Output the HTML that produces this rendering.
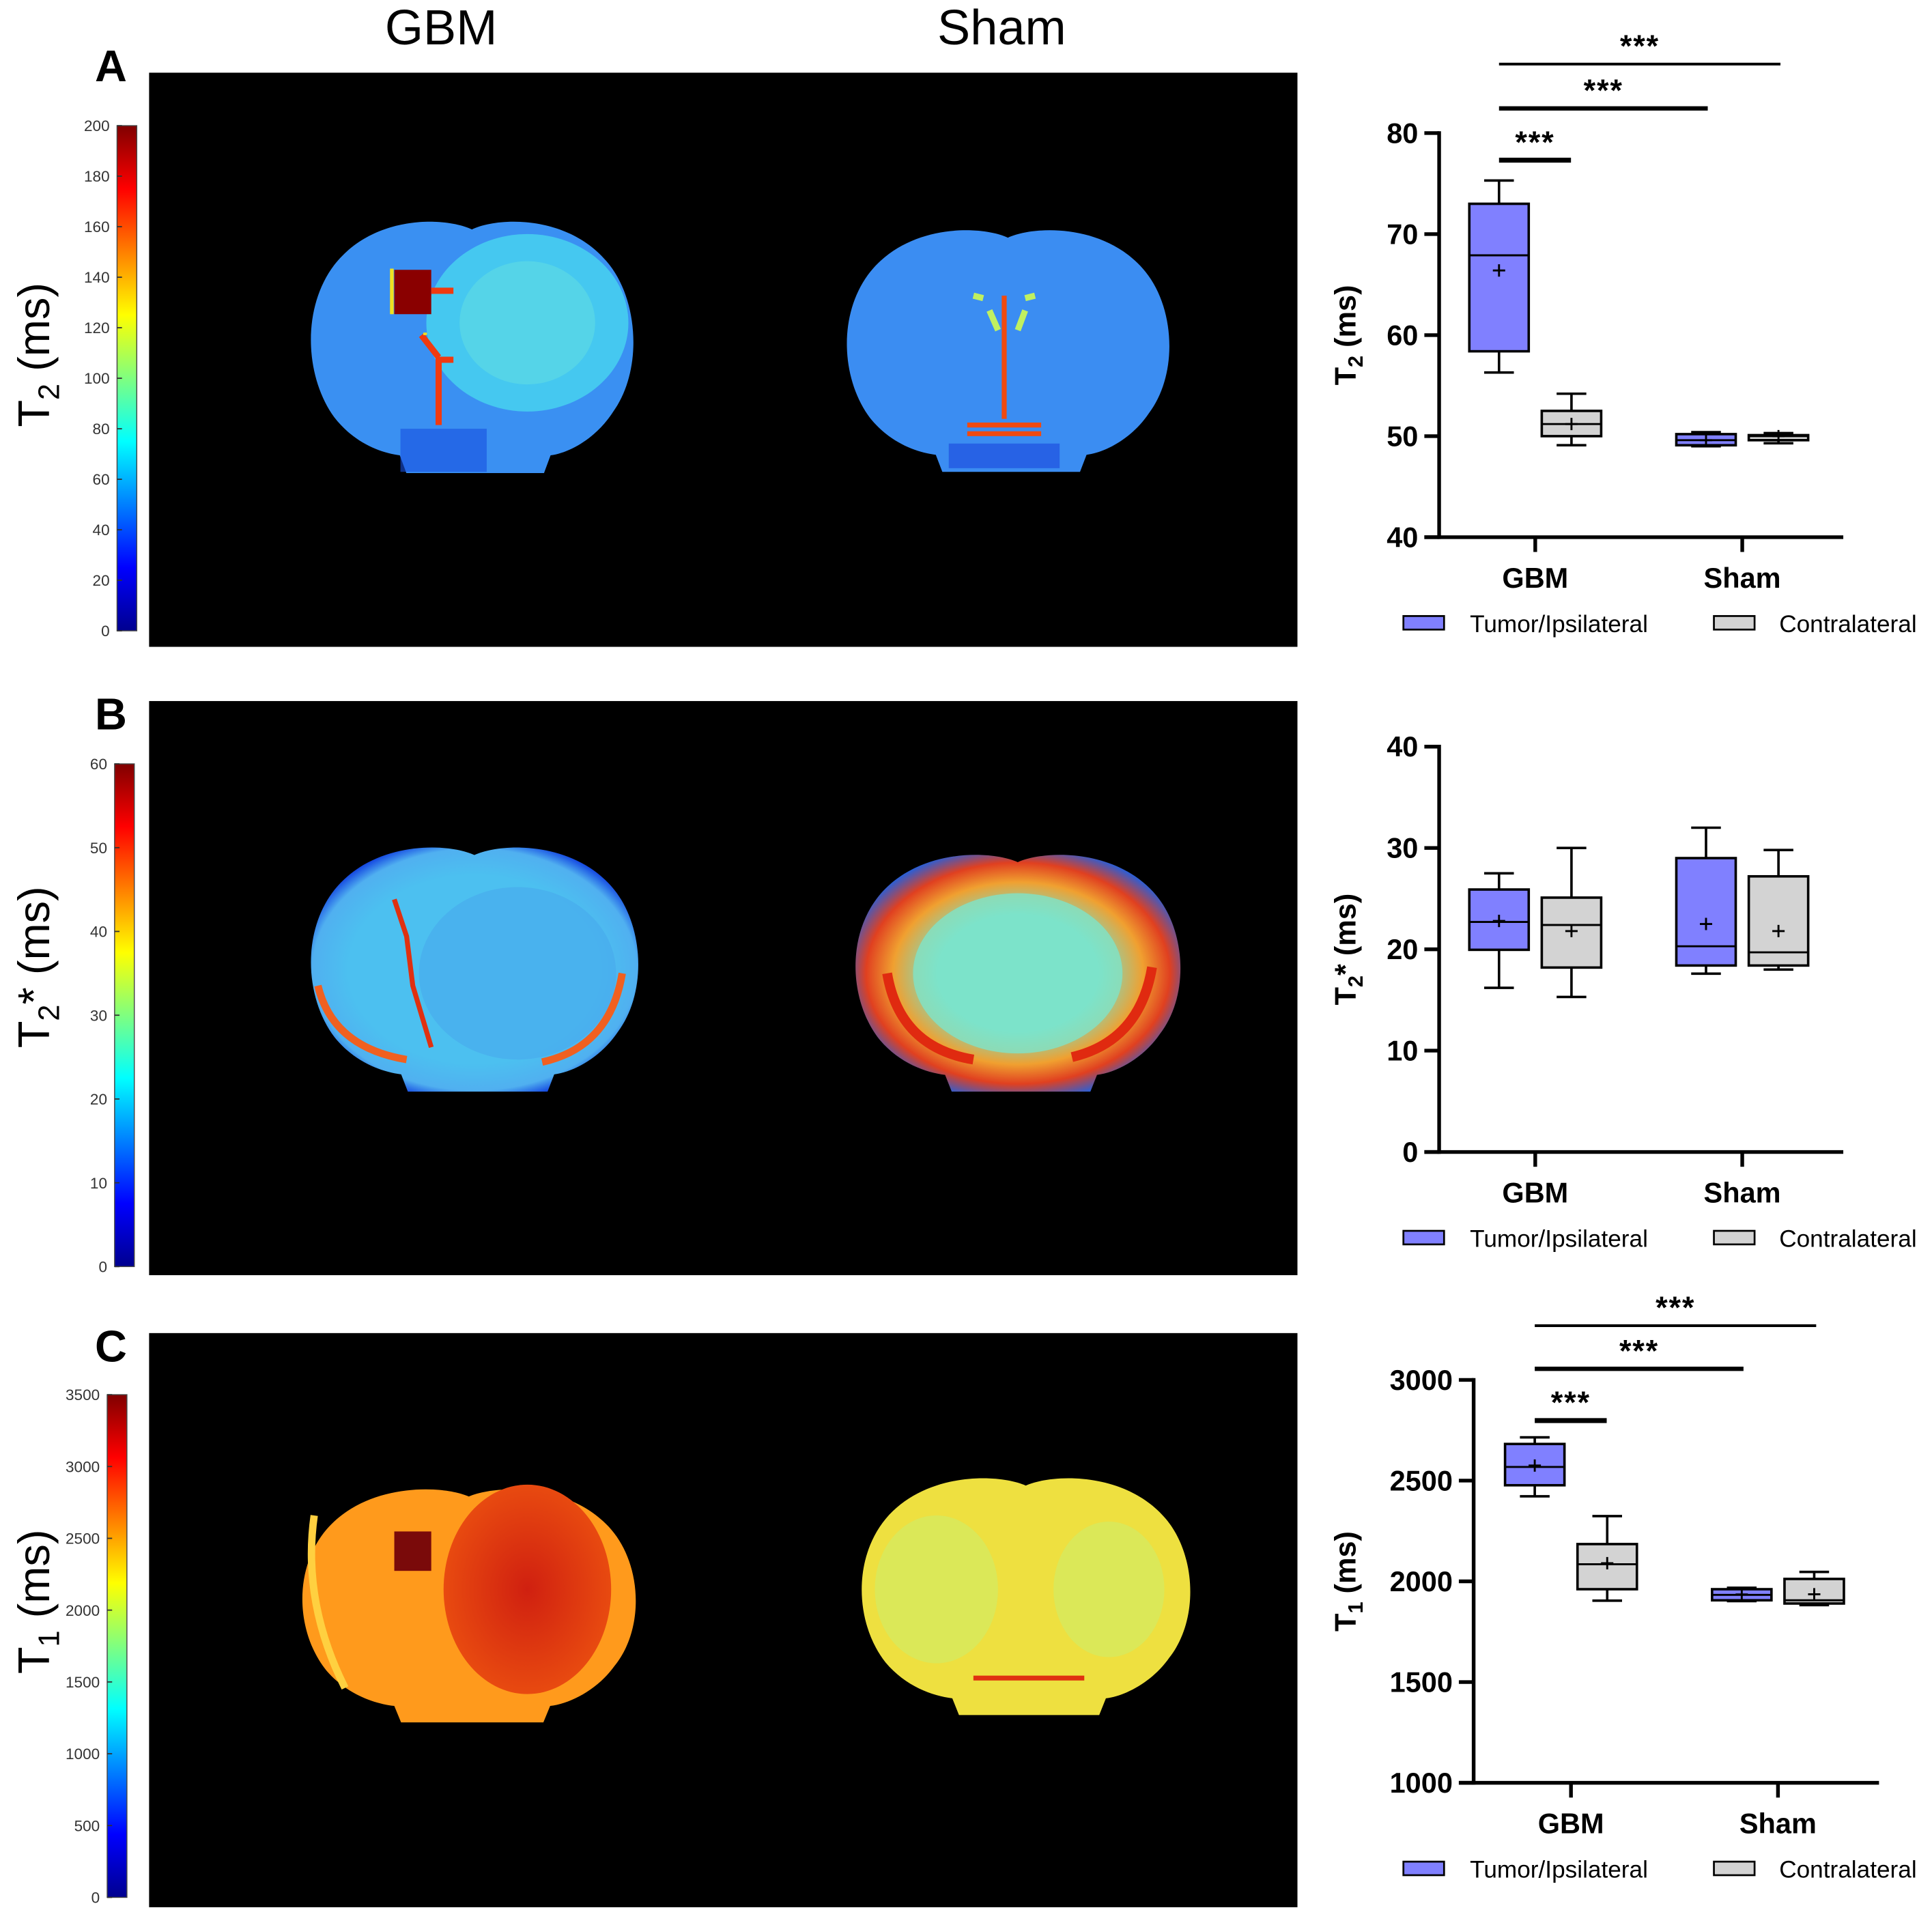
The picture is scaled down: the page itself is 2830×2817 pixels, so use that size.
<!DOCTYPE html>
<html><head><meta charset="utf-8"><style>
html,body{margin:0;padding:0;background:#fff;}
svg{display:block;}
text{font-family:"Liberation Sans",Arial,sans-serif;}
</style></head><body>
<svg id="fig" width="2830" height="2817" viewBox="0 0 1568 1560.8" preserveAspectRatio="none" xmlns="http://www.w3.org/2000/svg">
<defs>
<linearGradient id="jet" x1="0" y1="1" x2="0" y2="0">
<stop offset="0" stop-color="#00008f"/><stop offset="0.125" stop-color="#0000ff"/><stop offset="0.375" stop-color="#00ffff"/><stop offset="0.625" stop-color="#ffff00"/><stop offset="0.875" stop-color="#ff0000"/><stop offset="1" stop-color="#800000"/>
</linearGradient>
<path id="brain" d="M0.5,0.04 C0.42,-0.01 0.2,-0.02 0.08,0.18 C-0.02,0.35 -0.01,0.62 0.08,0.78 C0.14,0.88 0.22,0.92 0.28,0.93 L0.3,1 L0.72,1 L0.74,0.93 C0.8,0.92 0.88,0.86 0.93,0.76 C1.02,0.6 1.01,0.33 0.92,0.18 C0.8,-0.02 0.58,-0.01 0.5,0.04 Z"/>
<radialGradient id="b2edge" cx="0.5" cy="0.5" r="0.55"><stop offset="0.7" stop-color="#4cc0f0"/><stop offset="0.9" stop-color="#50b0f0"/><stop offset="1" stop-color="#1040e0"/></radialGradient>
<radialGradient id="b2sham" cx="0.5" cy="0.5" r="0.55"><stop offset="0.45" stop-color="#70e0d0"/><stop offset="0.7" stop-color="#f0a030"/><stop offset="0.85" stop-color="#e04020"/><stop offset="1" stop-color="#2060e0"/></radialGradient>
<radialGradient id="tumor1" cx="0.5" cy="0.5" r="0.5"><stop offset="0" stop-color="#d02010"/><stop offset="1" stop-color="#e84a10"/></radialGradient>
</defs>

<text x="358" y="36" font-size="40" text-anchor="middle">GBM</text>
<text x="813" y="36" font-size="40" text-anchor="middle">Sham</text>
<text x="90" y="66" font-size="36" font-weight="bold" text-anchor="middle">A</text>
<text x="90" y="592" font-size="36" font-weight="bold" text-anchor="middle">B</text>
<text x="90" y="1105" font-size="36" font-weight="bold" text-anchor="middle">C</text>

<rect x="121" y="59" width="932" height="466" fill="#000"/>
<rect x="121" y="569" width="932" height="466" fill="#000"/>
<rect x="121" y="1082" width="932" height="466" fill="#000"/>

<g>
<use href="#brain" transform="translate(250,178) scale(266,206)" fill="#3a90f2"/>
<ellipse cx="428" cy="262" rx="82" ry="72" fill="#45c8f0"/>
<ellipse cx="428" cy="262" rx="55" ry="50" fill="#55d4e8"/>
<rect x="320" y="219" width="30" height="36" fill="#8a0000"/>
<path d="M350,236 L368,236 M342,272 L356,290 M356,290 L356,345 M356,292 L368,292" stroke="#f03a10" stroke-width="5" fill="none"/>
<path d="M318,218 L318,255 M345,270 L345,272" stroke="#f0e020" stroke-width="3"/>
<rect x="325" y="348" width="70" height="35" fill="#1850e0" opacity="0.6"/>
</g>
<g>
<use href="#brain" transform="translate(685,185) scale(266,198)" fill="#3b8df2"/>
<path d="M815,240 L815,340 M785,345 L845,345 M785,352 L845,352" stroke="#f04a10" stroke-width="4"/>
<path d="M790,240 L798,242 M832,242 L840,240 M803,252 L810,268 M826,268 L832,252" stroke="#c0f060" stroke-width="5"/>
<rect x="770" y="360" width="90" height="20" fill="#2050e0" opacity="0.7"/>
</g>

<g>
<use href="#brain" transform="translate(250,686) scale(270,200)" fill="url(#b2edge)"/>
<path d="M258,800 Q270,850 330,860 M505,790 Q495,850 440,862" stroke="#f06020" stroke-width="6" fill="none"/>
<path d="M320,730 L330,760 L335,800 L350,850" stroke="#e03010" stroke-width="4" fill="none"/>
<ellipse cx="420" cy="790" rx="80" ry="70" fill="#48a8ec" opacity="0.6"/>
</g>
<g>
<use href="#brain" transform="translate(692,692) scale(268,194)" fill="url(#b2sham)"/>
<ellipse cx="826" cy="790" rx="85" ry="65" fill="#80e4c8" opacity="0.8"/>
<path d="M720,790 Q730,850 790,860 M935,785 Q925,845 870,858" stroke="#e02a10" stroke-width="8" fill="none"/>
</g>

<g>
<use href="#brain" transform="translate(243,1207) scale(275,191)" fill="#ff9a1c"/>
<ellipse cx="428" cy="1290" rx="68" ry="85" fill="url(#tumor1)"/>
<rect x="320" y="1243" width="30" height="32" fill="#7a0a0a"/>
<path d="M255,1230 Q245,1300 280,1370" stroke="#ffd040" stroke-width="6" fill="none"/>
</g>
<g>
<use href="#brain" transform="translate(697,1198) scale(271,194)" fill="#eee040"/>
<ellipse cx="760" cy="1290" rx="50" ry="60" fill="#c8f070" opacity="0.5"/>
<ellipse cx="900" cy="1290" rx="45" ry="55" fill="#c8f070" opacity="0.5"/>
<path d="M790,1362 L880,1362" stroke="#e03010" stroke-width="4"/>
</g>

<g id="colorbars"></g>
<g id="charts"></g>
</svg>
<script>
const cbT2Ticks = [0,20,40,60,80,100,120,140,160,180,200];
const cbT2sTicks = [0,10,20,30,40,50,60];
const cbT1Ticks = [0,500,1000,1500,2000,2500,3000,3500];

const categories = ["GBM","Sham"];
const seriesNames = ["Tumor/Ipsilateral","Contralateral"];
const t2Tumor = [[56.3,58.4,67.9,73.0,75.3],[49.0,49.1,49.6,50.2,50.4]];
const t2Contra = [[49.1,50.0,51.2,52.5,54.2],[49.3,49.6,50.0,50.1,50.3]];
const t2TumorMean = [66.4,49.6];
const t2ContraMean = [51.2,50.0];
const t2Ticks = [40,50,60,70,80];

const t2sTumor = [[16.2,19.95,22.7,25.9,27.5],[17.6,18.4,20.3,29.0,32.0]];
const t2sContra = [[15.3,18.2,22.4,25.1,30.0],[18.0,18.4,19.7,27.2,29.8]];
const t2sTumorMean = [22.8,22.5];
const t2sContraMean = [21.8,21.8];
const t2sTicks = [0,10,20,30,40];

const t1Tumor = [[2422,2477,2568,2682,2715],[1902,1906,1933,1961,1968]];
const t1Contra = [[1904,1961,2085,2185,2324],[1882,1890,1906,2012,2047]];
const t1TumorMean = [2575,1935];
const t1ContraMean = [2090,1936];
const t1Ticks = [1000,1500,2000,2500,3000];

const sigLabels = ["***","***","***"];

const NS = "http://www.w3.org/2000/svg";
function mk(tag, attrs, parent){
  const e = document.createElementNS(NS, tag);
  for (const k in attrs) e.setAttribute(k, attrs[k]);
  parent.appendChild(e);
  return e;
}

function colorbar(name, x, top, bottom, ticks, titleMain, titleSub, titleStar, titleY){
  const g = mk("g", {}, document.getElementById("colorbars"));
  
  
  const r = mk("rect", {x:x, y:top, width:16, height:bottom-top, fill:"url(#jet)", stroke:"#444", "stroke-width":0.8}, g);
  
  
  const mn = ticks[0], mx = ticks[ticks.length-1];
  ticks.forEach(function(t){
    const y = bottom - (t-mn)/(mx-mn)*(bottom-top);
    const tk = mk("line", {x1:x, x2:x+4, y1:y, y2:y, stroke:"#333", "stroke-width":1}, g);
    
    
    const lb = mk("text", {x:x-6, y:y+4.5, "font-size":12.5, fill:"#333", "text-anchor":"end"}, g);
    
    
    lb.textContent = t;
  });
  const tt = mk("text", {transform:"translate(40,"+titleY+") rotate(-90)", "font-size":36, "text-anchor":"middle"}, g);
  
  
  const s1 = mk("tspan", {}, tt); s1.textContent = titleMain;
  const s2 = mk("tspan", {"font-size":24, dy:8}, tt); s2.textContent = titleSub;
  const s3 = mk("tspan", {"font-size":36, dy:-8}, tt); s3.textContent = (titleStar ? "*" : "") + " (ms)";
}
colorbar("t2-colorbar", 95, 102, 512, cbT2Ticks, "T", "2", false, 288);
colorbar("t2star-colorbar", 93, 620, 1028, cbT2sTicks, "T", "2", true, 785);
colorbar("t1-colorbar", 87, 1132, 1540, cbT1Ticks, "T", "1", false, 1300);

function boxChart(cfg){
  const g = mk("g", {}, document.getElementById("charts"));
  
  
  const ticks = cfg.ticks, mn = ticks[0], mx = ticks[ticks.length-1];
  const yS = function(v){ return cfg.bottom - (v-mn)/(mx-mn)*(cfg.bottom-cfg.top); };
  const sp = cfg.catX[1]-cfg.catX[0];
  const xS = function(ci, si){ return cfg.catX[ci] + (si===0 ? -0.175 : 0.175)*sp; };
  const bw = 0.287*sp;
  const ya = mk("line", {x1:cfg.axisX, x2:cfg.axisX, y1:cfg.top-1.5, y2:cfg.bottom+1.5, stroke:"#000", "stroke-width":3}, g);
   
  const xa = mk("line", {x1:cfg.axisX-12, x2:cfg.axisEnd, y1:cfg.bottom, y2:cfg.bottom, stroke:"#000", "stroke-width":3}, g);
   
  ticks.forEach(function(t){
    const y = yS(t);
    const tk = mk("line", {x1:cfg.axisX-12, x2:cfg.axisX, y1:y, y2:y, stroke:"#000", "stroke-width":3}, g);
     
    const lb = mk("text", {x:cfg.axisX-17, y:y+8, "font-size":23, "font-weight":"bold", "text-anchor":"end"}, g);
     
    lb.textContent = t;
  });
  categories.forEach(function(c, ci){
    const tk = mk("line", {x1:cfg.catX[ci], x2:cfg.catX[ci], y1:cfg.bottom, y2:cfg.bottom+12, stroke:"#000", "stroke-width":3}, g);
     
    const lb = mk("text", {x:cfg.catX[ci], y:cfg.bottom+41, "font-size":23, "font-weight":"bold", "text-anchor":"middle"}, g);
     
    lb.textContent = c;
  });
  const tt = mk("text", {transform:"translate("+(cfg.axisX-cfg.titleOff)+","+((cfg.top+cfg.bottom)/2)+") rotate(-90)", "font-size":24, "font-weight":"bold", "text-anchor":"middle"}, g);
   
  const s1 = mk("tspan", {}, tt); s1.textContent = "T";
  const s2 = mk("tspan", {"font-size":17, dy:6}, tt); s2.textContent = cfg.sub;
  const s3 = mk("tspan", {"font-size":24, dy:-6}, tt); s3.textContent = (cfg.star ? "*" : "") + " (ms)";
  const sets = [[cfg.tumor, cfg.tumorMean, "#8080ff", "tumor"], [cfg.contra, cfg.contraMean, "#d3d3d3", "contra"]];
  sets.forEach(function(s, si){
    s[0].forEach(function(st, ci){
      const cx = xS(ci, si);
      const bg = mk("g", {}, g);
      
      
      mk("line", {x1:cx, x2:cx, y1:yS(st[4]), y2:yS(st[3]), stroke:"#000", "stroke-width":2}, bg);
      mk("line", {x1:cx, x2:cx, y1:yS(st[1]), y2:yS(st[0]), stroke:"#000", "stroke-width":2}, bg);
      mk("line", {x1:cx-bw/4, x2:cx+bw/4, y1:yS(st[4]), y2:yS(st[4]), stroke:"#000", "stroke-width":2}, bg);
      mk("line", {x1:cx-bw/4, x2:cx+bw/4, y1:yS(st[0]), y2:yS(st[0]), stroke:"#000", "stroke-width":2}, bg);
      mk("rect", {x:cx-bw/2, y:yS(st[3]), width:bw, height:Math.max(yS(st[1])-yS(st[3]),1), fill:s[2], stroke:"#000", "stroke-width":2}, bg);
      mk("line", {x1:cx-bw/2, x2:cx+bw/2, y1:yS(st[2]), y2:yS(st[2]), stroke:"#000", "stroke-width":1.6}, bg);
      const my = yS(s[1][ci]);
      mk("path", {d:"M"+(cx-5)+","+my+" h10 M"+cx+","+(my-5)+" v10", stroke:"#000", "stroke-width":1.6}, bg);
    });
  });
  if (cfg.sig){
    cfg.sig.forEach(function(sg, i){
      const l = mk("line", {x1:xS(0,0), x2:sg.x2, y1:sg.y, y2:sg.y, stroke:"#000", "stroke-width":sg.w}, g);
      
      
      const t = mk("text", {x:(xS(0,0)+sg.x2)/2, y:sg.y-6, "font-size":25, "font-weight":"bold", "text-anchor":"middle", "letter-spacing":"1"}, g);
      
      
      t.textContent = sigLabels[i];
    });
  }
  const ly = cfg.bottom + 70;
  [["#8080ff", 1139, 1193], ["#d3d3d3", 1391, 1444]].forEach(function(L, li){
    const lg = mk("g", {}, g);
    
    
    mk("rect", {x:L[1], y:ly-6, width:33, height:11, fill:L[0], stroke:"#000", "stroke-width":1.5}, lg);
    const t = mk("text", {x:L[2], y:ly+7, "font-size":19.5}, lg);
    t.textContent = seriesNames[li];
  });
}

boxChart({name:"t2-boxplot", top:108, bottom:436, axisX:1168, axisEnd:1496, catX:[1246,1414], ticks:t2Ticks, titleOff:68,
  tumor:t2Tumor, contra:t2Contra, tumorMean:t2TumorMean, contraMean:t2ContraMean, sub:"2", star:false,
  sig:[{y:130, x2:1275, w:4},{y:88, x2:1386, w:3.5},{y:52, x2:1445, w:2.2}]});
boxChart({name:"t2star-boxplot", top:606, bottom:935, axisX:1168, axisEnd:1496, catX:[1246,1414], ticks:t2sTicks, titleOff:68,
  tumor:t2sTumor, contra:t2sContra, tumorMean:t2sTumorMean, contraMean:t2sContraMean, sub:"2", star:true});
boxChart({name:"t1-boxplot", top:1120, bottom:1447, axisX:1196, axisEnd:1525, catX:[1275,1443], ticks:t1Ticks, titleOff:96,
  tumor:t1Tumor, contra:t1Contra, tumorMean:t1TumorMean, contraMean:t1ContraMean, sub:"1", star:false,
  sig:[{y:1153, x2:1304, w:4},{y:1111, x2:1415, w:3.5},{y:1076, x2:1474, w:2.2}]});
</script>
</body></html>
